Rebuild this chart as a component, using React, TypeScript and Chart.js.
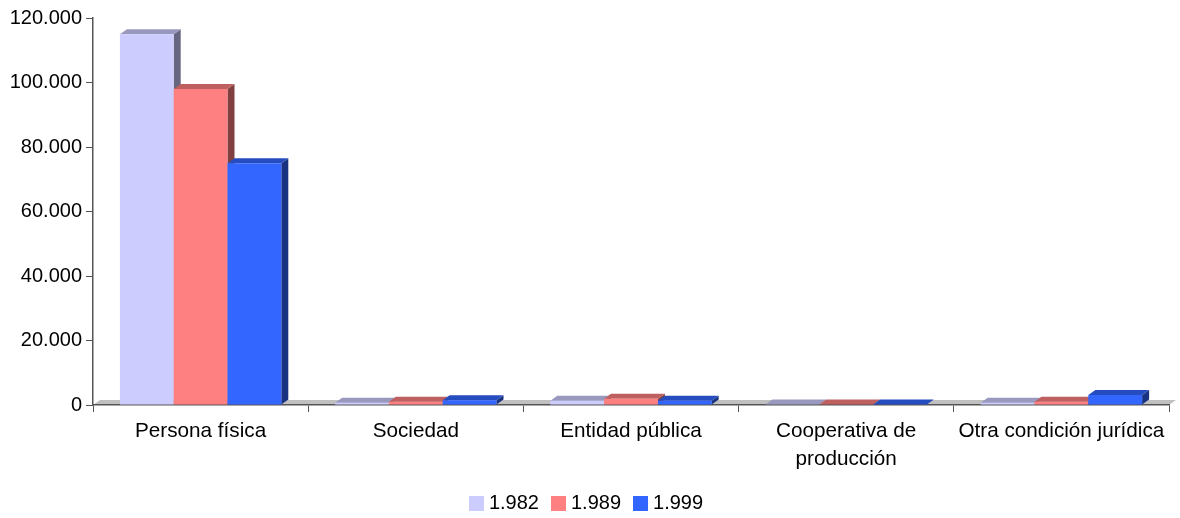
import React, { useEffect, useRef } from "react";
import { Chart, registerables } from "chart.js";

Chart.register(...registerables);

const categories: (string | string[])[] = [
  "Persona física",
  "Sociedad",
  "Entidad pública",
  ["Cooperativa de", "producción"],
  "Otra condición jurídica",
];
const years = ["1.982", "1.989", "1.999"];
const values1982 = [115000, 700, 1300, 150, 700];
const values1989 = [98000, 1000, 1900, 150, 1000];
const values1999 = [75000, 1500, 1300, 150, 3100];
const yMax = 120000;
const yStep = 20000;

const frontColors = ["#CCCCFF", "#FF8080", "#3366FF"];
const topColors = ["#9999BF", "#BF6060", "#264DBF"];
const sideColors = ["#666680", "#804040", "#1A3380"];
const floorColor = "#C0C0C0";
const axisColor = "#555555";
const DX = 7;
const DY = 5;

const family = "'Liberation Sans', Arial, sans-serif";
const font = { family, size: 20 };
const xFont = { family, size: 20.7, lineHeight: 1.35 };

function swatch(color: string) {
  const c = document.createElement("canvas");
  c.width = 15;
  c.height = 15;
  const g = c.getContext("2d")!;
  g.fillStyle = color;
  g.fillRect(0, 0, 15, 15);
  return c;
}

const threeD = {
  id: "threeD",
  afterLayout(chart: any) {
    chart.legend.top = 476;
    chart.legend.left = 8;
  },
  beforeDraw(chart: any) {
    const { ctx, chartArea } = chart;
    const b = chart.scales.y.getPixelForValue(0);
    ctx.save();
    ctx.fillStyle = floorColor;
    ctx.beginPath();
    ctx.moveTo(chartArea.left, b);
    ctx.lineTo(chartArea.right, b);
    ctx.lineTo(chartArea.right + DX, b - DY);
    ctx.lineTo(chartArea.left + DX, b - DY);
    ctx.closePath();
    ctx.fill();
    ctx.restore();
  },
  beforeDatasetsDraw(chart: any) {
    const { ctx } = chart;
    ctx.save();
    chart.data.datasets.forEach((_: any, di: number) => {
      const meta = chart.getDatasetMeta(di);
      meta.data.forEach((el: any) => {
        const l = el.x - el.width / 2;
        const r = el.x + el.width / 2;
        const t = el.y;
        const b = el.base;
        ctx.fillStyle = sideColors[di];
        ctx.beginPath();
        ctx.moveTo(r, t);
        ctx.lineTo(r + DX, t - DY);
        ctx.lineTo(r + DX, b - DY);
        ctx.lineTo(r, b);
        ctx.closePath();
        ctx.fill();
        ctx.fillStyle = topColors[di];
        ctx.beginPath();
        ctx.moveTo(l, t);
        ctx.lineTo(l + DX, t - DY);
        ctx.lineTo(r + DX, t - DY);
        ctx.lineTo(r, t);
        ctx.closePath();
        ctx.fill();
        el.draw(ctx, chart.chartArea);
      });
    });
    ctx.restore();
    return false;
  },
};

export default function App() {
  const ref = useRef<HTMLCanvasElement>(null);
  useEffect(() => {
    const chart = new Chart(ref.current!, {
      type: "bar",
      data: {
        labels: categories as any,
        datasets: [values1982, values1989, values1999].map((data, i) => ({
          label: years[i],
          data,
          backgroundColor: frontColors[i],
          borderWidth: 0,
          barPercentage: 1,
          categoryPercentage: 0.75,
        })),
      },
      options: {
        responsive: false,
        animation: false,
        layout: { padding: { top: 18, right: 11, left: 0, bottom: 0 } },
        plugins: {
          title: { display: false },
          tooltip: { enabled: false },
          legend: {
            position: "bottom",
            labels: {
              font,
              color: "#000",
              boxWidth: 5,
              padding: 17,
              usePointStyle: true,
              generateLabels: (c: any) =>
                c.data.datasets.map((d: any, i: number) => ({
                  text: d.label,
                  datasetIndex: i,
                  fillStyle: frontColors[i],
                  strokeStyle: frontColors[i],
                  lineWidth: 0,
                  hidden: false,
                  pointStyle: swatch(frontColors[i]),
                  fontColor: "#000",
                })),
            },
          },
        },
        scales: {
          x: {
            offset: true,
            grid: {
              offset: true,
              drawOnChartArea: false,
              drawTicks: true,
              tickLength: 7,
              color: axisColor,
            },
            border: { color: axisColor, width: 1.5 },
            ticks: {
              font: xFont,
              color: "#000",
              autoSkip: false,
              maxRotation: 0,
              minRotation: 0,
              padding: 5,
            },
            afterFit(s: any) {
              s.height = 66;
            },
          },
          y: {
            min: 0,
            max: yMax,
            grid: {
              drawOnChartArea: false,
              tickLength: 7,
              color: axisColor,
            },
            border: { color: axisColor, width: 1.5 },
            ticks: {
              stepSize: yStep,
              font,
              color: "#000",
              padding: 4,
              callback: (v: any) =>
                v === 0 ? "0" : Number(v).toLocaleString("de-DE", { minimumFractionDigits: 0 }),
            },
            afterFit(s: any) {
              s.width = 93;
            },
          },
        },
      },
      plugins: [threeD],
    } as any);
    return () => chart.destroy();
  }, []);
  return (
    <div style={{ position: "absolute", left: 0, top: 0, width: 1180, height: 518, background: "#fff" }}>
      <canvas ref={ref} width={1180} height={518} style={{ display: "block" }} />
    </div>
  );
}
